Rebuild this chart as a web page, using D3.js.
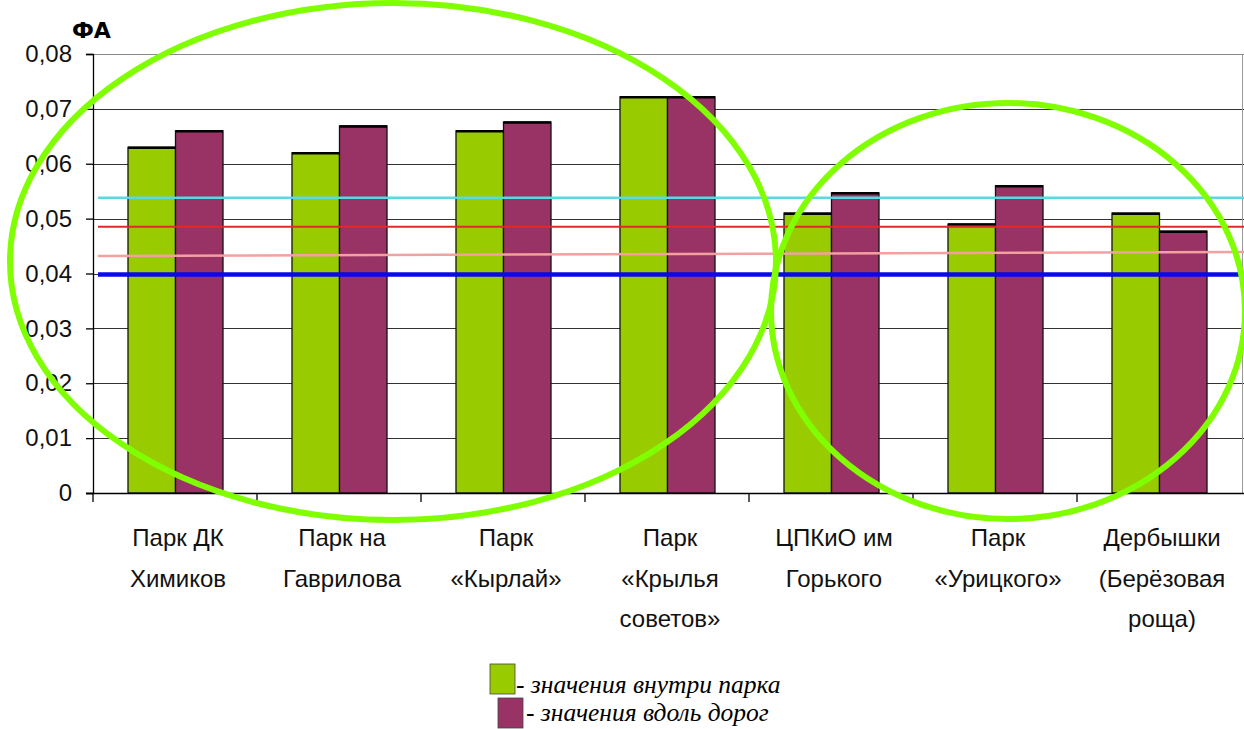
<!DOCTYPE html>
<html>
<head>
<meta charset="utf-8">
<script src="https://cdn.jsdelivr.net/npm/d3@7"></script>
<style>
  html, body { margin: 0; padding: 0; background: #fff; }
  svg { display: block; }
</style>
</head>
<body>
<svg id="chart" width="1244" height="729"></svg>
<script>
// Parks (category labels split into display lines)
const categories = [
  ["Парк ДК", "Химиков"],
  ["Парк на", "Гаврилова"],
  ["Парк", "«Кырлай»"],
  ["Парк", "«Крылья", "советов»"],
  ["ЦПКиО им", "Горького"],
  ["Парк", "«Урицкого»"],
  ["Дербышки", "(Берёзовая", "роща)"]
];
const categoryKeys = categories.map(c => c.join(" "));

// Fluctuating asymmetry values
const insidePark = [0.063, 0.062, 0.066, 0.0722, 0.051, 0.049, 0.051];
const alongRoads = [0.066, 0.0669, 0.0676, 0.0722, 0.0547, 0.056, 0.0477];

const seriesNames = ["значения внутри парка", "значения вдоль дорог"];

// Horizontal reference levels (value at left end, value at right end)
const refStart = [0.0538, 0.0485, 0.0432, 0.0398];
const refEnd   = [0.0538, 0.0485, 0.0439, 0.0398];

const yTicks = [0, 0.01, 0.02, 0.03, 0.04, 0.05, 0.06, 0.07, 0.08];
const yTickLabels = ["0", "0,01", "0,02", "0,03", "0,04", "0,05", "0,06", "0,07", "0,08"];

const svg = d3.select("#chart");
const plotLeft = 93, plotRight = 1241, plotTop = 54, plotBottom = 493;

const y = d3.scaleLinear().domain([0, 0.08]).range([plotBottom, plotTop]);
const x = d3.scaleBand().domain(categoryKeys).range([plotLeft, plotRight]).padding(0);
const xs = d3.scaleBand().domain([0, 1]).range([35, x.bandwidth() - 34]);

const seriesColors = ["#99cc00", "#993366"];
const refColors = ["#55dbe3", "#e02a2a", "#f2a0a0", "#0a0ae6"];
const refWidths = [2.5, 2, 2.5, 4.5];

// Horizontal gridlines
svg.append("g")
  .selectAll("line")
  .data(yTicks.slice(1))
  .join("line")
  .attr("x1", plotLeft).attr("x2", 1244)
  .attr("y1", d => Math.round(y(d)) + 0.5).attr("y2", d => Math.round(y(d)) + 0.5)
  .attr("stroke", (d, i) => i === yTicks.length - 2 ? "#8a8a8a" : "#333")
  .attr("stroke-width", 1.2);

// Right border of the plot area
svg.append("line")
  .attr("x1", 1242.5).attr("x2", 1242.5)
  .attr("y1", y(0.08)).attr("y2", plotBottom)
  .attr("stroke", "#999").attr("stroke-width", 1);

// Bars
const groups = svg.append("g")
  .selectAll("g")
  .data(categoryKeys)
  .join("g")
  .attr("transform", d => `translate(${x(d)},0)`);

groups.selectAll("rect")
  .data((d, i) => [insidePark[i], alongRoads[i]])
  .join("rect")
  .attr("x", (d, j) => xs(j))
  .attr("width", xs.bandwidth())
  .attr("y", d => y(d))
  .attr("height", d => plotBottom - y(d))
  .attr("fill", (d, j) => seriesColors[j])
  .attr("stroke", "#111")
  .attr("stroke-width", 1.3);

// Bar top edges (heavier)
groups.selectAll("line.topEdge")
  .data((d, i) => [insidePark[i], alongRoads[i]])
  .join("line")
  .attr("class", "topEdge")
  .attr("x1", (d, j) => xs(j)).attr("x2", (d, j) => xs(j) + xs.bandwidth())
  .attr("y1", d => y(d) + 0.5).attr("y2", d => y(d) + 0.5)
  .attr("stroke", "#000").attr("stroke-width", 2.5);

// Reference lines
svg.append("g")
  .selectAll("line")
  .data(refStart)
  .join("line")
  .attr("x1", 98).attr("x2", 1244)
  .attr("y1", d => y(d))
  .attr("y2", (d, i) => y(refEnd[i]))
  .attr("stroke", (d, i) => refColors[i])
  .attr("stroke-width", (d, i) => refWidths[i]);

// Y axis
const yAxis = d3.axisLeft(y)
  .tickValues(yTicks)
  .tickFormat((d, i) => yTickLabels[i])
  .tickSize(7)
  .tickPadding(14);
const gy = svg.append("g").attr("transform", `translate(${plotLeft},0)`).call(yAxis);
gy.select(".domain").attr("stroke", "#000").attr("stroke-width", 1.3);
gy.selectAll(".tick line").attr("stroke", "#000").attr("stroke-width", 1.3);
gy.selectAll(".tick text")
  .attr("font-family", "'Liberation Sans', Arial, sans-serif")
  .attr("font-size", 24)
  .attr("fill", "#111");

// X axis line and band-boundary ticks
svg.append("line")
  .attr("x1", 86).attr("x2", 1244)
  .attr("y1", plotBottom + 0.5).attr("y2", plotBottom + 0.5)
  .attr("stroke", "#000").attr("stroke-width", 1.3);
svg.append("g")
  .selectAll("line")
  .data(categoryKeys)
  .join("line")
  .attr("x1", d => x(d)).attr("x2", d => x(d))
  .attr("y1", plotBottom).attr("y2", plotBottom + 9)
  .attr("stroke", "#000").attr("stroke-width", 1.3);

// Category labels
const labels = svg.append("g")
  .selectAll("text")
  .data(categories)
  .join("text")
  .attr("text-anchor", "middle")
  .attr("font-family", "'Liberation Sans', Arial, sans-serif")
  .attr("font-size", 24)
  .attr("fill", "#111")
  .attr("transform", (d, i) => `translate(${x(categoryKeys[i]) + x.bandwidth() / 2 + 3},546)`);
labels.selectAll("tspan")
  .data(d => d)
  .join("tspan")
  .attr("x", 0)
  .attr("y", (d, k) => k * 40.5)
  .text(d => d);

// Axis title
svg.append("text")
  .attr("x", 72).attr("y", 38)
  .attr("font-family", "'DejaVu Sans', 'Liberation Sans', sans-serif")
  .attr("font-weight", "bold")
  .attr("font-size", 22)
  .attr("fill", "#000")
  .text("ФА");

// Highlight ellipses
const ellipses = [
  { cx: 393, cy: 261.5, rx: 383, ry: 258.5 },
  { cx: 1008, cy: 311, rx: 237, ry: 208 }
];
svg.append("g")
  .selectAll("ellipse")
  .data(ellipses)
  .join("ellipse")
  .attr("cx", d => d.cx).attr("cy", d => d.cy)
  .attr("rx", d => d.rx).attr("ry", d => d.ry)
  .attr("fill", "none")
  .attr("stroke", "#7fff00")
  .attr("stroke-width", 6);

// Legend
const legendRows = [
  { sx: 490, sy: 664, tx: 516, ty: 693 },
  { sx: 498, sy: 698, tx: 526, ty: 721 }
];
const lg = svg.append("g");
lg.selectAll("rect")
  .data(seriesNames)
  .join("rect")
  .attr("x", (d, i) => legendRows[i].sx)
  .attr("y", (d, i) => legendRows[i].sy)
  .attr("width", 25).attr("height", 30)
  .attr("fill", (d, i) => seriesColors[i])
  .attr("stroke", "#444").attr("stroke-width", 0.8);
lg.selectAll("text")
  .data(seriesNames)
  .join("text")
  .attr("x", (d, i) => legendRows[i].tx)
  .attr("y", (d, i) => legendRows[i].ty)
  .attr("font-family", "'Liberation Serif', 'Times New Roman', serif")
  .attr("font-style", "italic")
  .attr("font-size", 25.5)
  .attr("fill", "#000")
  .text(d => "- " + d);
</script>
</body>
</html>
